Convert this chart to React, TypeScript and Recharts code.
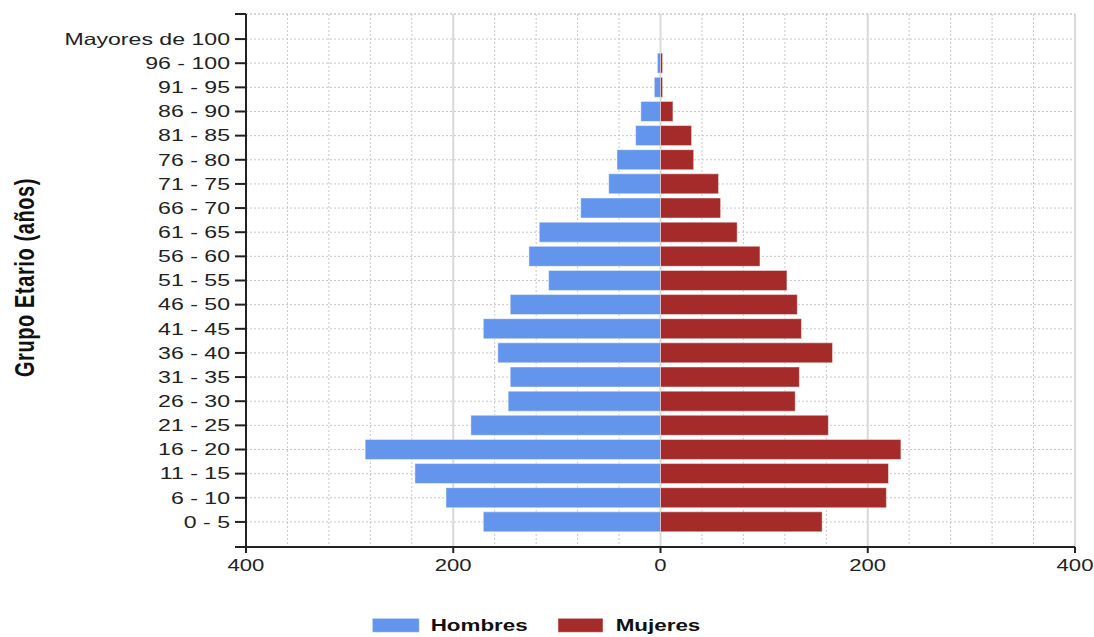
import React from 'react';
import { BarChart, Bar, XAxis, YAxis, CartesianGrid, Legend, usePlotArea } from 'recharts';

// grupos de edad, de menor a mayor (el eje se invierte)
const ageGroups = [
  '0 - 5', '6 - 10', '11 - 15', '16 - 20', '21 - 25', '26 - 30', '31 - 35',
  '36 - 40', '41 - 45', '46 - 50', '51 - 55', '56 - 60', '61 - 65', '66 - 70',
  '71 - 75', '76 - 80', '81 - 85', '86 - 90', '91 - 95', '96 - 100', 'Mayores de 100',
];
const hombres = [171, 207, 237, 285, 183, 147, 145, 157, 171, 145, 108, 127, 117, 77, 50, 42, 24, 19, 6, 3, 0];
const mujeres = [156, 218, 220, 232, 162, 130, 134, 166, 136, 132, 122, 96, 74, 58, 56, 32, 30, 12, 2, 2, 0];

const majorTicks = [-400, -200, 0, 200, 400];
const minorTicks = [-400, -360, -320, -280, -240, -200, -160, -120, -80, -40, 0, 40, 80, 120, 160, 200, 240, 280, 320, 360, 400];

const series = [
  { key: 'hombres', name: 'Hombres', color: '#6495ED' },
  { key: 'mujeres', name: 'Mujeres', color: '#A52A2A' },
];

const data = ageGroups.map((group, i) => ({
  group,
  hombres: -hombres[i],
  mujeres: mujeres[i],
}));

const W = 1094;
const H = 637;
const TEXT = '#222';
const AXIS = '#222';
const GRID = '#c8c8c8';
const FONT = '"Liberation Sans", Arial, sans-serif';
const STRETCH = 1.4;

const YTick = (props: any) => {
  const { x, y, payload } = props;
  return (
    <text
      x={x}
      y={y}
      dy="0.35em"
      textAnchor="end"
      fill={TEXT}
      fontSize={16.5}
      fontFamily={FONT}
      transform={`translate(${x} 0) scale(${STRETCH} 1) translate(${-x} 0)`}
    >
      {payload.value}
    </text>
  );
};

const XTick = (props: any) => {
  const { x, y, payload } = props;
  return (
    <text
      x={x}
      y={y}
      dy="0.71em"
      textAnchor="middle"
      fill={TEXT}
      fontSize={16}
      fontFamily={FONT}
      transform={`translate(${x} 0) scale(1.38 1) translate(${-x} 0)`}
    >
      {Math.abs(payload.value)}
    </text>
  );
};

const YLabel = (props: any) => {
  const vb = props.viewBox;
  const cx = vb.x + 16;
  const cy = vb.y + vb.height / 2 - 3;
  return (
    <text
      transform={`translate(${cx} ${cy}) scale(${STRETCH} 1) rotate(-90)`}
      textAnchor="middle"
      dy="0.35em"
      fill="#111"
      fontSize={20}
      fontWeight="bold"
      letterSpacing={0.6}
      fontFamily={FONT}
    >
      Grupo Etario (años)
    </text>
  );
};

// linea superior del grid y marcas extremas del eje Y
const AxisExtras = () => {
  const plot = usePlotArea();
  if (!plot) return null;
  const { x, y, width, height } = plot;
  return (
    <g>
      <line x1={x} x2={x + width} y1={y} y2={y} stroke={GRID} strokeDasharray="2 2" />
      <line x1={x - 11} x2={x} y1={y} y2={y} stroke={AXIS} strokeWidth={2} />
      <line x1={x - 11} x2={x} y1={y + height} y2={y + height} stroke={AXIS} strokeWidth={2} />
    </g>
  );
};

// el contenedor de la leyenda empieza en x = margin.left
const legendPos = [
  { rectX: 364.3, rectW: 47, textX: 422.7 },
  { rectX: 550, rectW: 45, textX: 607.7 },
];

const LegendBox = () => (
  <div style={{ width: W - 27, height: 50, position: 'relative' }}>
    <svg width={W - 27} height={50} style={{ position: 'absolute', left: 0, top: 0 }}>
      {series.map((s, i) => (
        <g key={s.key}>
          <rect
            x={legendPos[i].rectX}
            y={31.3}
            width={legendPos[i].rectW}
            height={14}
            fill={s.color}
            stroke="rgba(255,255,255,0.45)"
          />
          <text
            x={legendPos[i].textX}
            y={38.5}
            dy="0.35em"
            fill="#111"
            fontSize={16}
            fontWeight="bold"
            fontFamily={FONT}
            transform={`translate(${legendPos[i].textX} 0) scale(${STRETCH} 1) translate(${-legendPos[i].textX} 0)`}
          >
            {s.name}
          </text>
        </g>
      ))}
    </svg>
  </div>
);

export default function App() {
  return (
    <>
      <style>{'html { overflow: hidden; } body { margin: 0; }'}</style>
      <BarChart
        width={W}
        height={H}
        data={data}
        layout="vertical"
        stackOffset="sign"
        barSize={20}
        margin={{ top: 14, right: 19, left: 8, bottom: 0 }}
      >
        <CartesianGrid stroke={GRID} strokeDasharray="2 2" verticalValues={minorTicks} />
        <CartesianGrid stroke="#d9d9d9" strokeWidth={2} horizontal={false} verticalValues={majorTicks} />
        <XAxis
          type="number"
          domain={[-400, 400]}
          ticks={majorTicks}
          interval={0}
          height={40}
          tickSize={6}
          tickMargin={7}
          axisLine={{ stroke: AXIS, strokeWidth: 2 }}
          tickLine={{ stroke: AXIS, strokeWidth: 2 }}
          tick={<XTick />}
        />
        <YAxis
          type="category"
          dataKey="group"
          reversed
          interval={0}
          width={238}
          tickSize={11}
          tickMargin={5}
          padding={{ top: 13, bottom: 13 }}
          axisLine={{ stroke: AXIS, strokeWidth: 2 }}
          tickLine={{ stroke: AXIS, strokeWidth: 2 }}
          tick={<YTick />}
          label={{ content: <YLabel /> }}
        />
        {series.map((s) => (
          <Bar
            key={s.key}
            dataKey={s.key}
            name={s.name}
            stackId="pop"
            fill={s.color}
            stroke="rgba(255,255,255,0.45)"
            strokeWidth={1}
            isAnimationActive={false}
          />
        ))}
        <AxisExtras />
        <Legend verticalAlign="bottom" content={<LegendBox />} />
      </BarChart>
    </>
  );
}
